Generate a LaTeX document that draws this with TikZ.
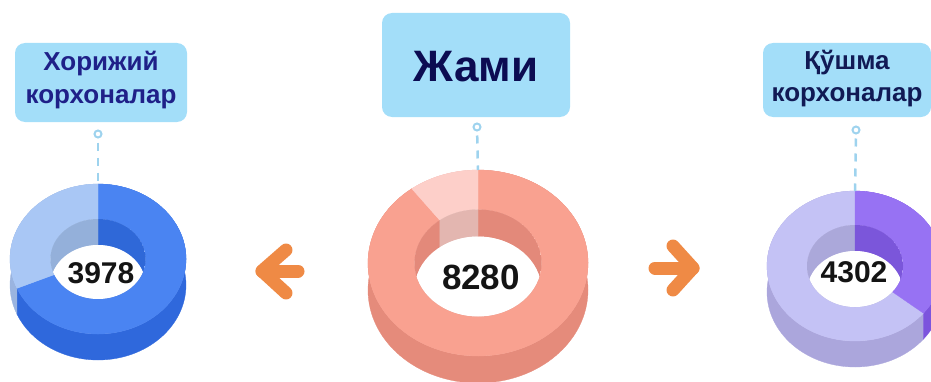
\documentclass[tikz,border=0pt]{standalone}
\usepackage{fontspec}
\setmainfont{Liberation Sans}
\usetikzlibrary{positioning}
\definecolor{boxblue}{HTML}{A3DEF9}
\definecolor{leaderblue}{HTML}{9ED3EE}
\definecolor{arroworange}{HTML}{EF8A45}
\definecolor{inkleft}{HTML}{1F2088}
\definecolor{inkright}{HTML}{111A55}
\definecolor{inkmid}{HTML}{0C0C52}
\definecolor{bluetop}{HTML}{4A84F2}
\definecolor{blueside}{HTML}{2F68DC}
\definecolor{bluewall}{HTML}{2F68D8}
\definecolor{paletop}{HTML}{A9C7F5}
\definecolor{paleside}{HTML}{9AB4E0}
\definecolor{palewall}{HTML}{94B0DA}
\definecolor{salmontop}{HTML}{F9A190}
\definecolor{salmonside}{HTML}{E58B7B}
\definecolor{salmonwall}{HTML}{E3897A}
\definecolor{pinktop}{HTML}{FDCFC9}
\definecolor{pinkside}{HTML}{EFB9B2}
\definecolor{pinkwall}{HTML}{E3B6B0}
\definecolor{liltop}{HTML}{C4C2F5}
\definecolor{lilside}{HTML}{ABA6DC}
\definecolor{lilwall}{HTML}{ABA8DA}
\definecolor{violettop}{HTML}{9772F3}
\definecolor{violetside}{HTML}{7C54DD}
\definecolor{violetwall}{HTML}{7B56DA}
% pieces of a ring chart, radii set by \ringR, \ringRy, \holeR, \holeRy, \ringD
\newcommand{\donutside}[3]{%
  \path[fill=#3, draw=#3, line width=0.3pt] ({\ringR*cos(#1)},{\ringRy*sin(#1)})
    arc[start angle=#1, end angle=#2, x radius=\ringR pt, y radius=\ringRy pt]
    -- ++(0,-\ringD)
    arc[start angle=#2, end angle=#1, x radius=\ringR pt, y radius=\ringRy pt] -- cycle;}
\newcommand{\donuttop}[3]{%
  \path[fill=#3, draw=#3, line width=0.3pt] ({\ringR*cos(#1)},{\ringRy*sin(#1)})
    arc[start angle=#1, end angle=#2, x radius=\ringR pt, y radius=\ringRy pt]
    -- ({\holeR*cos(#2)},{\holeRy*sin(#2)})
    arc[start angle=#2, end angle=#1, x radius=\holeR pt, y radius=\holeRy pt] -- cycle;}
\newcommand{\donutwall}[3]{%
  \path[fill=#3, draw=#3, line width=0.3pt] ({\holeR*cos(#1)},{\holeRy*sin(#1)})
    arc[start angle=#1, end angle=#2, x radius=\holeR pt, y radius=\holeRy pt]
    -- ++(0,-\ringD)
    arc[start angle=#2, end angle=#1, x radius=\holeR pt, y radius=\holeRy pt] -- cycle;}
\newcommand{\donuthole}{%
  \fill[white] (0,-\ringD) ellipse[x radius=\holeR pt, y radius=\holeRy pt];}

\begin{document}
\begin{tikzpicture}[x=1pt, y=1pt,
    labelbox/.style = {fill=boxblue, rounded corners=10pt, inner sep=0pt, align=center,
      font=\bfseries\fontsize{26}{32.5}\selectfont},
    countlabel/.style = {text=black!92, inner sep=0pt, font=\bfseries\fontsize{30}{36}\selectfont},
    ringdot/.style = {circle, draw=leaderblue, line width=2pt, minimum size=7pt, inner sep=0pt},
    leader/.style = {draw=leaderblue, line width=2.5pt, dash pattern=on 8pt off 7pt, shorten <=4pt},
    pointer/.style = {draw=arroworange, line width=13pt, line cap=round, line join=round}]
    \useasboundingbox (0,0) rectangle (931,381);
    \clip (0,0) rectangle (931,381);

    % left ring
    \begin{scope}[shift={(98,122)}]
      \def\ringR{88}\def\ringRy{75}\def\holeR{47.5}\def\holeRy{40}\def\ringD{26}
      \donutside{-157}{90}{blueside}
      \donutside{90}{203}{paleside}
      \donuttop{-157}{90}{bluetop}
      \donuttop{90}{203}{paletop}
      \begin{scope}
        \clip (0,0) ellipse[x radius=\holeR pt, y radius=\holeRy pt];
        \donutwall{-157}{90}{bluewall}
        \donutwall{90}{203}{palewall}
        \donuthole
      \end{scope}
    \end{scope}

    % middle ring
    \begin{scope}[shift={(478,118)}]
      \def\ringR{110}\def\ringRy{93}\def\holeR{63.5}\def\holeRy{53.5}\def\ringD{27}
      \donutside{127}{450}{salmonside}
      \donutside{90}{127}{pinkside}
      \donuttop{127}{450}{salmontop}
      \donuttop{90}{127}{pinktop}
      \begin{scope}
        \clip (0,0) ellipse[x radius=\holeR pt, y radius=\holeRy pt];
        \donutwall{127}{450}{salmonwall}
        \donutwall{90}{127}{pinkwall}
        \donuthole
      \end{scope}
    \end{scope}

    % right ring
    \begin{scope}[shift={(855,115)}]
      \def\ringR{88}\def\ringRy{75}\def\holeR{48}\def\holeRy{41}\def\ringD{26}
      \donutside{90}{321}{lilside}
      \donutside{-39}{90}{violetside}
      \donuttop{90}{321}{liltop}
      \donuttop{-39}{90}{violettop}
      \begin{scope}
        \clip (0,0) ellipse[x radius=\holeR pt, y radius=\holeRy pt];
        \donutwall{90}{321}{lilwall}
        \donutwall{-39}{90}{violetwall}
        \donuthole
      \end{scope}
    \end{scope}

    \node[labelbox, text=inkleft, minimum width=172pt, minimum height=79pt,
      text height=47.6pt, text depth=6pt] (foreign) at (101,298.5) {Хорижий\\корхоналар};
    \node[labelbox, text=inkmid, minimum width=188pt, minimum height=104pt,
      text height=34pt, text depth=0pt, font=\bfseries\fontsize{44}{50}\selectfont] (total) at (476,316) {Жами};
    \node[labelbox, text=inkright, minimum width=168pt, minimum height=74pt,
      text height=49.4pt, text depth=6pt] (joint) at (847,301) {Қўшма\\корхоналар};

    \node[countlabel] (n1) at (101,108) {3978};
    \node[countlabel, font=\bfseries\fontsize{35}{40}\selectfont] (n2) at (481,104) {8280};
    \node[countlabel] (n3) at (854,109) {4302};

    \node[ringdot] (r1) at (98,247) {};
    \node[ringdot] (r2) at (477,254) {};
    \node[ringdot] (r3) at (856,251) {};
    \coordinate (t1) at (98,197);
    \coordinate (t2) at (478,211);
    \coordinate (t3) at (855,190);

    \path[leader]
    (r1) edge (t1)
    (r2) edge (t2)
    (r3) edge (t3)
    ;

    \draw[pointer] (298,110) -- (262,110);
    \draw[pointer] (286,131) -- (262,110) -- (286,88);
    \draw[pointer] (655,113) -- (693,113);
    \draw[pointer] (673,135) -- (693,113) -- (673,91);
  \end{tikzpicture}
\end{document}
